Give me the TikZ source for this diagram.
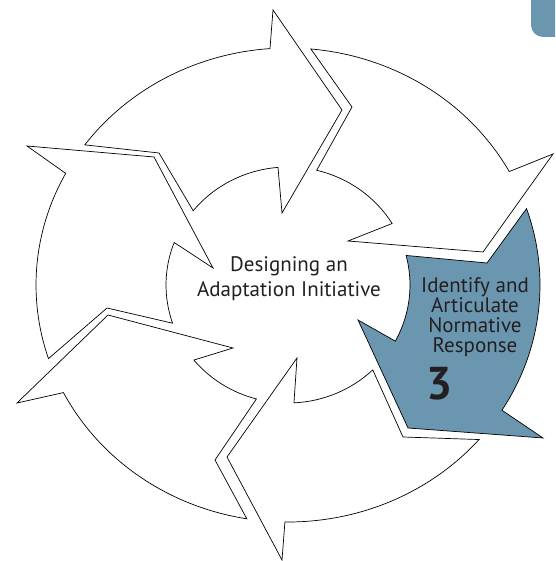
\documentclass[tikz,border=0pt]{standalone}
\usepackage{fontspec}
\setmainfont{PT Sans}
\usetikzlibrary{calc}
\definecolor{stepblue}{RGB}{106,150,176}
\definecolor{textgray}{RGB}{35,31,32}

\begin{document}
\begin{tikzpicture}[x=1pt, y=1pt]
    \tikzstyle{segment} = [draw=black, line width=0.7pt, fill=white, line join=miter]
    \tikzstyle{active} = [draw=black, line width=0.7pt, fill=stepblue, line join=miter]
    \tikzstyle{outer} = [x radius=252, y radius=237]
    \tikzstyle{inner} = [x radius=122, y radius=118]
    \tikzstyle{hubtext} = [align=center, text=textgray, font=\fontsize{21}{25}\selectfont]
    \tikzstyle{steptext} = [align=center, text=textgray, font=\fontsize{21}{19.8}\selectfont]
    \tikzstyle{stepnum} = [text=textgray, font=\fontsize{46}{46}\selectfont\bfseries]

    \useasboundingbox (0,0) rectangle (555,561);
    \coordinate (C) at (288,276);

    % Tab in the corner
    \begin{scope}
        \clip (0,0) rectangle (555,561);
        \fill [stepblue, rounded corners=12pt] (531,524) rectangle (580,590);
    \end{scope}

    % Left segment
    \draw [segment] ($(C)+(198.1:252 and 237)$) arc [outer, start angle=198.1, end angle=151.9]
        -- (27,415) -- (154,404) -- (213,293)
        -- ($(C)+(158.9:122 and 118)$) arc [inner, start angle=158.9, end angle=198.9]
        -- (107,253) -- cycle;

    % Upper left segment
    \draw [segment] ($(C)+(143.75:252 and 237)$) arc [outer, start angle=143.75, end angle=94.1]
        -- (273,551) -- (342,451) -- (282,348)
        -- ($(C)+(94.7:122 and 118)$) arc [inner, start angle=94.7, end angle=141]
        -- (159,408) -- cycle;

    % Upper right segment
    \draw [segment] ($(C)+(84.8:252 and 237)$) arc [outer, start angle=84.8, end angle=28.6]
        -- (553,407) -- (483,309) -- (348,320)
        -- ($(C)+(31.4:122 and 118)$) arc [inner, start angle=31.4, end angle=76.4]
        -- (352,454) -- cycle;

    % Step 3 (highlighted)
    \draw [active] ($(C)+(18.8:252 and 237)$) arc [outer, start angle=18.8, end angle=-31.9]
        -- (543,123) -- (408,133) -- (358,241)
        -- ($(C)+(-28.4:122 and 118)$) arc [inner, start angle=-28.4, end angle=14.5]
        -- (487,298) -- cycle;

    % Bottom segment
    \draw [segment] ($(C)+(-40.7:252 and 237)$) arc [outer, start angle=-40.7, end angle=-90.7]
        -- (282,1) -- (227,104) -- (297,203)
        -- ($(C)+(-87.2:122 and 118)$) arc [inner, start angle=-87.2, end angle=-46]
        -- (403,124) -- cycle;

    % Lower left segment
    \draw [segment] ($(C)+(-99.4:252 and 237)$) arc [outer, start angle=-99.4, end angle=-153]
        -- (17,158) -- (108,246) -- (233,213)
        -- ($(C)+(-140.5:122 and 118)$) arc [inner, start angle=-140.5, end angle=-105]
        -- (215,101) -- cycle;

    % Labels
    \node [hubtext] (hub) at (289,282) {Designing an\\Adaptation Initiative};
    \node [steptext] (stepname) at (475,244) {Identify and\\Articulate\\Normative\\Response};
    \node [stepnum, anchor=base west] (stepnr) at (423,161) {3};
\end{tikzpicture}
\end{document}
